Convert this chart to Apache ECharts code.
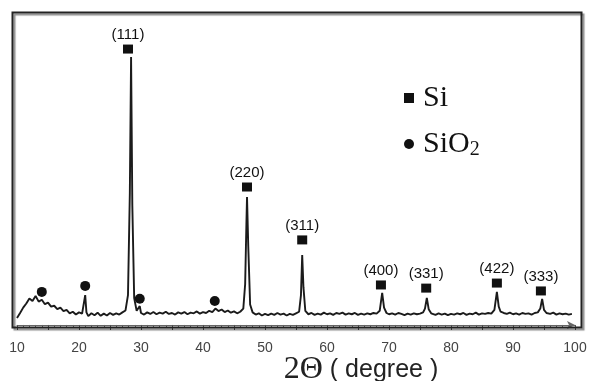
<!DOCTYPE html>
<html>
<head>
<meta charset="utf-8">
<script src="https://cdn.jsdelivr.net/npm/echarts@6/dist/echarts.min.js"></script>
<style>
html,body{margin:0;padding:0;background:#fff;}
#chart{width:589px;height:381px;}
</style>
</head>
<body>
<div id="chart"></div>
<script>
// XRD pattern: 2-theta (degree) and intensity (arbitrary units, 0-1000)
var theta = [
10.0,10.5,11.0,11.5,12.0,12.5,13.0,13.5,14.0,14.5,15.0,15.5,16.0,16.5,17.0,17.5,18.0,18.5,19.0,19.5,
20.0,20.5,20.8,21.0,21.2,21.5,22.0,22.5,23.0,23.5,24.0,24.5,25.0,25.5,26.0,26.5,27.0,27.5,27.9,28.2,
28.4,28.6,28.9,29.3,29.6,29.8,30.0,30.5,31.0,31.5,32.0,32.5,33.0,33.5,34.0,34.5,35.0,35.5,36.0,36.5,
37.0,37.5,38.0,38.5,39.0,39.5,40.0,40.5,41.0,41.5,42.0,42.5,43.0,43.5,44.0,44.5,45.0,45.5,46.0,46.5,
46.8,47.0,47.1,47.3,47.6,48.0,48.5,49.0,49.5,50.0,50.5,51.0,51.5,52.0,52.5,53.0,53.5,54.0,54.5,55.0,
55.5,55.8,56.0,56.2,56.5,57.0,57.5,58.0,58.5,59.0,59.5,60.0,60.5,61.0,61.5,62.0,62.5,63.0,63.5,64.0,
64.5,65.0,65.5,66.0,66.5,67.0,67.5,68.0,68.5,68.9,69.2,69.6,70.0,70.5,71.0,71.5,72.0,72.5,73.0,73.5,
74.0,74.5,75.0,75.5,75.8,76.1,76.4,76.8,77.0,77.5,78.0,78.5,79.0,79.5,80.0,80.5,81.0,81.5,82.0,82.5,
83.0,83.5,84.0,84.5,85.0,85.5,86.0,86.5,87.0,87.4,87.7,88.0,88.5,89.0,89.5,90.0,90.5,91.0,91.5,92.0,
92.5,93.0,93.5,94.0,94.4,94.7,95.0,95.4,96.0,96.5,97.0,97.5,98.0,98.5,99.0,99.5
];
var intensity = [
22,38,55,68,84,76,92,74,80,66,71,58,61,50,55,44,48,37,42,33,
40,36,42,95,40,28,37,31,39,29,36,30,38,32,37,33,40,46,95,420,
851,380,85,45,40,60,38,33,40,35,41,34,39,36,42,35,38,33,40,36,
41,34,39,37,43,36,41,38,45,41,52,44,49,41,46,39,43,37,42,52,
130,320,406,250,65,40,33,37,30,35,31,36,32,38,33,36,30,35,32,37,
42,95,222,120,45,34,38,32,36,33,39,34,37,32,38,35,39,33,37,34,
38,32,36,33,37,34,38,36,45,102,55,38,34,37,33,38,35,31,36,33,
37,34,36,40,52,86,50,37,35,32,37,33,36,31,35,33,37,34,38,32,
36,34,39,33,37,35,38,36,48,105,58,42,38,35,39,34,37,33,38,35,
37,33,38,40,52,83,48,38,35,39,33,37,34,36,33,35
];
// Si reflections (square markers)
var siTheta = [27.9, 47.1, 56.0, 68.7, 76.0, 87.4, 94.5];
var siMarkY = [876, 438, 270, 127, 117, 133, 108];
var siLabels = ['(111)', '(220)', '(311)', '(400)', '(331)', '(422)', '(333)'];
// SiO2 reflections (circle markers)
var sio2Theta = [14.0, 21.0, 29.8, 41.9];
var sio2MarkY = [105, 124, 83, 76];
// x-axis ticks
var xMin = 10, xMax = 100, xStep = 5;

var chart = echarts.init(document.getElementById('chart'), null, {renderer: 'canvas'});
var lineData = theta.map(function (t, i) { return [t, intensity[i]]; });
var siData = siTheta.map(function (t, i) { return {value: [t, siMarkY[i]], name: siLabels[i]}; });
var sio2Data = sio2Theta.map(function (t, i) { return [t, sio2MarkY[i]]; });

chart.setOption({
  animation: false,
  backgroundColor: '#fff',
  grid: {left: 17, right: 14, top: 10, bottom: 51, outerBoundsMode: 'none', containLabel: false},
  graphic: [{
    type: 'rect', left: 10, top: 10, z: 100,
    shape: {width: 569, height: 315},
    style: {fill: 'none', stroke: '#222', lineWidth: 2,
      shadowColor: 'rgba(0,0,0,0.45)', shadowOffsetX: 2, shadowOffsetY: 2, shadowBlur: 1}
  }, {
    type: 'text', x: 361, y: 370, z: 100,
    style: {
      text: '{a|2Θ}{b| ( degree )}',
      align: 'center', verticalAlign: 'middle',
      rich: {
        a: {fontFamily: 'Liberation Serif', fontSize: 32, fill: '#222'},
        b: {fontFamily: 'Liberation Sans', fontSize: 25, fill: '#222'}
      }
    }
  }],
  legend: {
    data: ['Si', 'SiO2'],
    orient: 'vertical', left: 399, top: 78,
    itemWidth: 10, itemHeight: 10, itemGap: 16,
    formatter: function (n) { return n === 'SiO2' ? '{n|SiO}{s|2}' : '{n|Si}'; },
    textStyle: {
      color: '#111',
      rich: {
        n: {fontFamily: 'Liberation Serif', fontSize: 30, color: '#111', padding: [0, 0, 0, 4]},
        s: {fontFamily: 'Liberation Serif', fontSize: 20, color: '#111', padding: [12, 0, 0, 0]}
      }
    }
  },
  xAxis: {
    type: 'value', min: xMin, max: xMax, interval: xStep,
    axisLine: {show: true, symbol: ['none', 'arrow'], symbolSize: [6, 8], lineStyle: {color: '#666', width: 1}},
    axisTick: {show: true, inside: false, length: 5, lineStyle: {color: '#555'}},
    minorTick: {show: true, splitNumber: 5, length: 3, lineStyle: {color: '#666'}},
    splitLine: {show: false},
    axisLabel: {
      margin: 11, fontFamily: 'Liberation Sans', fontSize: 14, color: '#444',
      formatter: function (v) { return v % 10 === 0 ? String(v) : ''; }
    }
  },
  yAxis: {type: 'value', min: -16, max: 1000, show: false},
  series: [
    {
      name: 'pattern', type: 'line', data: lineData, showSymbol: false, symbol: 'none',
      lineStyle: {color: '#1b1b1b', width: 1.9}, z: 2, legendHoverLink: false
    },
    {
      name: 'Si', type: 'scatter', data: siData, symbol: 'rect', symbolSize: [10, 9],
      itemStyle: {color: '#111', opacity: 1}, z: 3,
      label: {show: true, position: 'top', distance: 2, fontFamily: 'Liberation Sans', fontSize: 15, color: '#111',
        formatter: function (p) { return p.name; }}
    },
    {
      name: 'SiO2', type: 'scatter', data: sio2Data, symbol: 'circle', symbolSize: 10,
      itemStyle: {color: '#111', opacity: 1}, z: 3
    }
  ]
});
</script>
</body>
</html>
